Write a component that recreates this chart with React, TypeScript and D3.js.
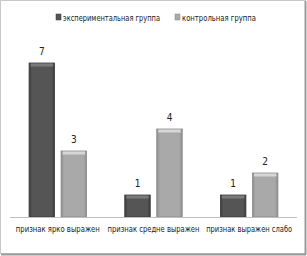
import * as d3 from "d3";

const categories = ["признак ярко выражен", "признак средне выражен", "признак выражен слабо"];
const categoryWidths = [84, 92, 86];
const seriesNames = ["экспериментальная группа", "контрольная группа"];
const legendWidths = [97, 74];
const experimental = [7, 1, 1];
const control = [3, 4, 2];

const W = 307;
const H = 256;
const margin = { top: 41, left: 10, right: 10, bottom: 39 };
const baseY = H - margin.bottom;
const squeeze = 0.8; // horizontal squeeze to mimic the narrow font

const colors = [
  { base: "#555555", light: "#7a7a7a", dark: "#3c3c3c", edge: "#3a3a3a" },
  { base: "#a9a9a9", light: "#d6d6d6", dark: "#8c8c8c", edge: "#8a8a8a" },
];

const font = "'DejaVu Sans Condensed', 'DejaVu Sans', sans-serif";

export default function App() {
  const x0 = d3.scaleBand().domain(categories).range([margin.left, W - margin.right]);
  const y = d3.scaleLinear().domain([0, 8]).range([baseY, margin.top]);
  const barW = 25.5;
  const gap = 6.5;
  const offset = (x0.bandwidth() - 2 * barW - gap) / 2;

  const series = [experimental, control];

  return (
    <svg width={W} height={H} style={{ position: "absolute", left: 0, top: 0, background: "#fff" }}>
      <defs>
        {colors.map((c, i) => (
          <linearGradient key={i} id={`g${i}`} x1="0" x2="1" y1="0" y2="0">
            <stop offset="0" stopColor={c.dark} />
            <stop offset="0.12" stopColor={c.base} />
            <stop offset="0.88" stopColor={c.base} />
            <stop offset="1" stopColor={c.dark} />
          </linearGradient>
        ))}
      </defs>
      {/* frame */}
      <rect x={0.5} y={0.5} width={305} height={253} fill="none" stroke="#c8c8c8" />
      <line x1={305.5} x2={305.5} y1={1} y2={255} stroke="#9a9a9a" strokeWidth={2} />
      <line x1={1} x2={306} y1={254.5} y2={254.5} stroke="#9a9a9a" strokeWidth={2} />

      {/* legend */}
      {seriesNames.map((name, i) => {
        const lx = i === 0 ? 56 : 175;
        return (
          <g key={name}>
            <rect x={lx} y={14} width={5} height={6} fill={colors[i].base} stroke={colors[i].edge} strokeWidth={0.5} />
            <g transform={`translate(${lx + 7},20.5) scale(${squeeze},1)`}>
              <text
                x={0}
                y={0}
                fontSize={9.5}
                fontFamily={font}
                fill="#222"
                textLength={legendWidths[i] / squeeze}
                lengthAdjust="spacingAndGlyphs"
              >
                {name}
              </text>
            </g>
          </g>
        );
      })}

      {/* bars */}
      {series.map((vals, si) =>
        vals.map((v, ci) => {
          const bx = (x0(categories[ci]) ?? 0) + offset + si * (barW + gap);
          const by = y(v);
          const bh = baseY - by;
          return (
            <g key={`${si}-${ci}`}>
              <rect x={bx} y={by} width={barW} height={bh} fill={`url(#g${si})`} stroke={colors[si].edge} strokeWidth={0.8} />
              <rect x={bx + 1.5} y={by + 0.5} width={barW - 3} height={3} fill={colors[si].light} />
              <text x={bx + barW / 2} y={by - 8} textAnchor="middle" fontSize={10} fontFamily={font} fill="#222">
                {v}
              </text>
            </g>
          );
        })
      )}

      {/* axis line */}
      <line x1={margin.left} x2={W - margin.right} y1={baseY + 0.5} y2={baseY + 0.5} stroke="#c0c0c0" />

      {/* category labels */}
      {categories.map((c, i) => (
        <g
          key={c}
          transform={`translate(${(x0(c) ?? 0) + x0.bandwidth() / 2 - categoryWidths[i] / 2},${baseY + 15}) scale(${squeeze},1)`}
        >
          <text
            x={0}
            y={0}
            fontSize={9.5}
            fontFamily={font}
            fill="#222"
            textLength={categoryWidths[i] / squeeze}
            lengthAdjust="spacingAndGlyphs"
          >
            {c}
          </text>
        </g>
      ))}
    </svg>
  );
}
